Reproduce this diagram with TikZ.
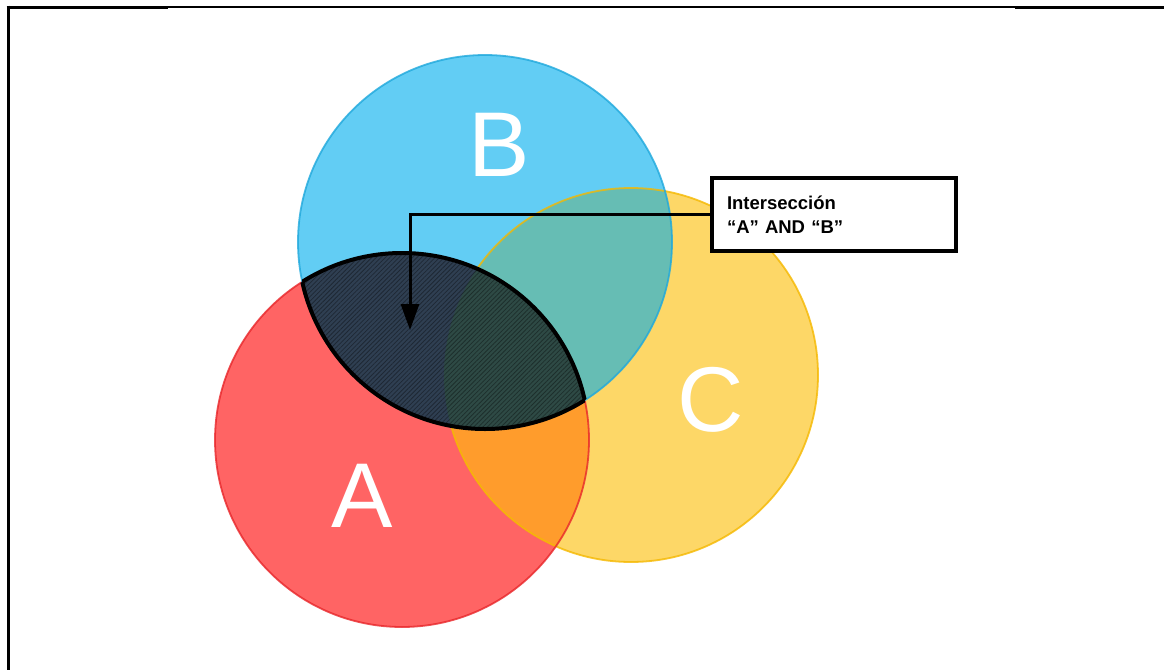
\documentclass[tikz,border=0pt]{standalone}
\usepackage{fontspec}
\setmainfont{Liberation Sans}
\usetikzlibrary{arrows.meta,patterns.meta}
\definecolor{cA}{HTML}{FF6464}
\definecolor{cAe}{HTML}{E8262A}
\definecolor{cB}{HTML}{62CDF4}
\definecolor{cBe}{HTML}{1FA8DC}
\definecolor{cC}{HTML}{FDD767}
\definecolor{cCe}{HTML}{F5B800}
\definecolor{cAC}{HTML}{FF9C2C}
\definecolor{cBC}{HTML}{66BDB4}
\definecolor{cAB}{HTML}{2F3F52}
\definecolor{cABC}{HTML}{2E4A45}
\tikzset{
  frameline/.style={line width=3pt},
  thinline/.style={line width=1.3pt},
  letter/.style={text=white, inner sep=0pt, font=\fontsize{92}{92}\selectfont},
  callout/.style={draw=black, line width=3.4pt, fill=white, minimum width=244pt, minimum height=73pt,
    text width=214pt, inner xsep=15pt, inner ysep=0pt, align=left,
    font=\bfseries\fontsize{18.5}{24.5}\selectfont},
  pointer/.style={line width=3pt, -{Triangle[length=26pt,width=18pt]}}
}
\def\circA{(402,440) circle[radius=187]}
\def\circB{(485,242) circle[radius=187]}
\def\circC{(631,375) circle[radius=187]}
\begin{document}
\begin{tikzpicture}[x=1pt,y=-1pt]
\useasboundingbox (0,0) rectangle (1164,670);
% frame
\draw[frameline] (6.5,7) -- (168,7);
\draw[thinline] (168,7) -- (1015,7);
\draw[frameline] (1015,7) -- (1164,7);
\draw[frameline] (8,5.5) -- (8,670);
% fills
\fill[cA] \circA;
\fill[cC] \circC;
\fill[cB] \circB;
\begin{scope}\clip \circA; \fill[cAC] \circC; \end{scope}
\begin{scope}\clip \circB; \fill[cBC] \circC; \end{scope}
% edges
\draw[cCe, line width=1.8pt, opacity=0.8] \circC;
\draw[cAe, line width=1.8pt, opacity=0.8] \circA;
\draw[cBe, line width=1.8pt, opacity=0.8] \circB;
% lens A and B
\begin{scope}
  \clip \circA; \clip \circB;
  \fill[cAB] \circA;
  \clip \circC; \fill[cABC] \circC;
\end{scope}
\begin{scope}
  \clip \circA;
  \fill[pattern={Lines[angle=45,distance=3.2pt,line width=0.8pt]}, pattern color=black, opacity=0.35] \circB;
  \draw[black, line width=4pt] \circB;
\end{scope}
\begin{scope}
  \clip \circB;
  \draw[black, line width=4pt] \circA;
\end{scope}
% letters
\node[letter] (la) at (362,496) {A};
\node[letter] (lb) at (499,145) {B};
\node[letter] (lc) at (711,400) {C};
% callout
\node[callout] (box) at (834,214.5) {Intersección\\“A” AND “B”};
\coordinate (tip) at (410,330);
\draw[pointer] (box.west) -| (tip);
\end{tikzpicture}
\end{document}
